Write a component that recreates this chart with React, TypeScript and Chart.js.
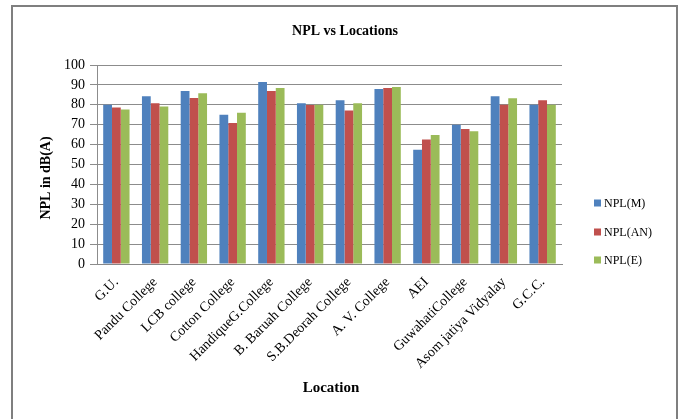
import React, { useEffect, useRef } from "react";
import { Chart, registerables } from "chart.js";

Chart.register(...registerables);

const categories = [
  "G.U.",
  "Pandu College",
  "LCB college",
  "Cotton College",
  "HandiqueG.College",
  "B. Baruah College",
  "S.B.Deorah College",
  "A. V. College",
  "AEI",
  "GuwahatiCollege",
  "Asom jatiya Vidyalay",
  "G.C.C.",
];

const seriesNames = ["NPL(M)", "NPL(AN)", "NPL(E)"];
const nplM = [80, 84.3, 86.9, 75, 91.5, 80.8, 82.3, 87.9, 57.4, 70, 84.3, 80];
const nplAN = [78.7, 80.8, 83.4, 70.9, 86.9, 79.9, 77.1, 88.4, 62.6, 67.8, 80, 82.3];
const nplE = [77.7, 79.1, 85.8, 76, 88.4, 80, 80.8, 88.9, 64.8, 66.7, 83.3, 80];
const seriesColors = ["#4F81BD", "#C0504D", "#9BBB59"];

const chartTitle = "NPL vs Locations";
const yTitle = "NPL in dB(A)";
const xTitle = "Location";

const FONT = "'Liberation Serif', 'Times New Roman', serif";

const overlayPlugin = {
  id: "overlay",
  beforeDraw(chart: any) {
    const ctx = chart.ctx;
    ctx.save();
    ctx.fillStyle = "#ffffff";
    ctx.fillRect(0, 0, chart.width, chart.height);
    ctx.strokeStyle = "#7f7f7f";
    ctx.lineWidth = 2;
    ctx.beginPath();
    ctx.moveTo(12, chart.height + 5);
    ctx.lineTo(12, 6);
    ctx.lineTo(677, 6);
    ctx.lineTo(677, chart.height + 5);
    ctx.stroke();
    ctx.restore();
  },
  afterDraw(chart: any) {
    const ctx = chart.ctx;
    ctx.save();
    ctx.fillStyle = "#000000";
    ctx.textAlign = "center";
    ctx.textBaseline = "middle";
    ctx.font = `bold 14px ${FONT}`;
    ctx.fillText(chartTitle, 345, 31);
    ctx.font = `bold 15px ${FONT}`;
    ctx.fillText(xTitle, 331, 388);
    ctx.save();
    ctx.translate(46, 178);
    ctx.rotate(-Math.PI / 2);
    ctx.font = `bold 14px ${FONT}`;
    ctx.fillText(yTitle, 0, 0);
    ctx.restore();

    // legend
    const ys = [203, 232, 260];
    ctx.font = `12px ${FONT}`;
    ctx.textAlign = "left";
    chart.data.datasets.forEach((ds: any, i: number) => {
      ctx.fillStyle = ds.backgroundColor;
      ctx.fillRect(594, ys[i] - 3.5, 7, 7);
      ctx.fillStyle = "#000000";
      ctx.fillText(ds.label, 604, ys[i] + 0.5);
    });
    ctx.restore();
  },
};

export default function App() {
  const ref = useRef<HTMLCanvasElement | null>(null);

  useEffect(() => {
    if (!ref.current) return;
    const chart = new Chart(ref.current, {
      type: "bar",
      data: {
        labels: categories,
        datasets: [nplM, nplAN, nplE].map((d, i) => ({
          label: seriesNames[i],
          data: d,
          backgroundColor: seriesColors[i],
          borderWidth: 0,
          categoryPercentage: 0.68,
          barPercentage: 1.0,
        })),
      },
      options: {
        animation: false,
        responsive: false,
        devicePixelRatio: 1,
        layout: { padding: { top: 65, left: 0, right: 119, bottom: 0 } },
        plugins: {
          legend: { display: false },
          title: { display: false },
          tooltip: { enabled: false },
        },
        scales: {
          x: {
            grid: { display: false },
            border: { display: true, color: "#888888", width: 1 },
            ticks: {
              autoSkip: false,
              maxRotation: 45,
              minRotation: 45,
              padding: 2,
              color: "#000000",
              font: { family: FONT, size: 14 },
            },
            afterFit: (scale: any) => {
              scale.height = 155;
            },
          },
          y: {
            min: 0,
            max: 100,
            ticks: {
              stepSize: 10,
              padding: 5,
              color: "#000000",
              font: { family: FONT, size: 14 },
            },
            grid: { color: "#8c8c8c", lineWidth: 1, tickLength: 7, tickColor: "#8c8c8c" },
            border: { display: true, color: "#8c8c8c", width: 1 },
            afterFit: (scale: any) => {
              scale.width = 97;
            },
          },
        },
      },
      plugins: [overlayPlugin],
    });
    return () => chart.destroy();
  }, []);

  return (
    <div style={{ position: "fixed", left: 0, top: 0, width: 681, height: 419, overflow: "hidden", background: "#fff" }}>
      <canvas ref={ref} width={681} height={419} style={{ display: "block", width: 681, height: 419 }} />
    </div>
  );
}
